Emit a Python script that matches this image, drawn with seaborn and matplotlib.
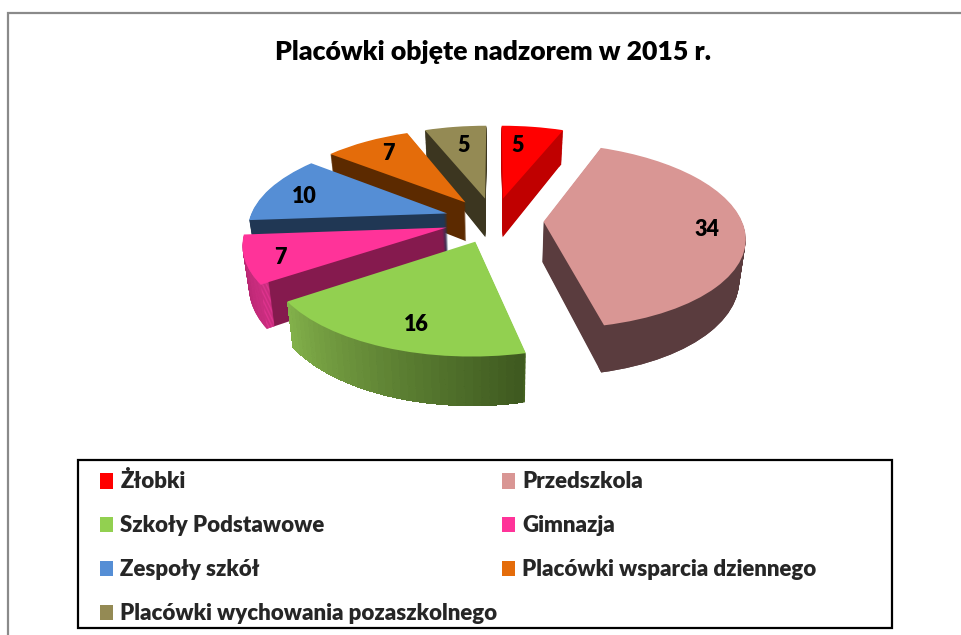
import numpy as np
import seaborn as sns
import matplotlib
matplotlib.use("Agg")
import matplotlib.pyplot as plt
from matplotlib.patches import Wedge, Rectangle
from matplotlib.transforms import Transform, Affine2D

# Dane
kategorie = ["Żłobki", "Przedszkola", "Szkoły Podstawowe", "Gimnazja",
             "Zespoły szkół", "Placówki wsparcia dziennego",
             "Placówki wychowania pozaszkolnego"]
wartosci = [5, 34, 16, 7, 10, 7, 5]
tytul = "Placówki objęte nadzorem w 2015 r."

# Kolory
kolory = ["#ff0000", "#d99694", "#92d050", "#ff3399", "#558ed5", "#e46c0a", "#948a54"]
sciany = ["#c00000", "#5a3c3e", "#43601f", "#851a4e", "#203754", "#5c2a00", "#3c3620"]
obrzeza = ["#c00000", "#5a3c3e", "#43601f", "#e0348f", "#203754", "#5c2a00", "#3c3620"]
kolejnosc = [0, 6, 5, 4, 3, 2, 1]  # od tylu do przodu

# Korekta polozenia etykiet (piksele)
przesuniecia = [(-10, 6), (3, 2), (12, 1), (-6, 5), (0, 3), (4, 1), (3, 6)]

sns.set_theme(style="white")
plt.rcParams["font.family"] = ["Lato", "DejaVu Sans"]

# Rzut perspektywiczny kola na ekran (piksele)
SX, SY, CX, CY, K = 198, 90, 494, 220, 0.152
GLEBOKOSC = 40


class Rzut(Transform):
    input_dims = output_dims = 2

    def __init__(self, z=0):
        super().__init__()
        self.z = z

    def transform_non_affine(self, values):
        x, y = np.asarray(values).T
        f = 1 / (1 + K * y)
        return np.column_stack((CX + x * SX * f * (1 - 0.00065 * self.z),
                                CY - y * SY * f + self.z * f))


fig = plt.figure(figsize=(9.62, 6.35), dpi=100)
ax = fig.add_axes([0, 0, 1, 1])
explode = [0.25] * len(wartosci)
wspolne = dict(explode=explode, startangle=90, counterclock=False)


def rozmiesc(klin, i, z, warstwa):
    klin.set_transform(Rzut(z) + ax.transData)
    klin.set_zorder(2 + kolejnosc.index(i) + warstwa)


# Boki: warstwy od dolu do gory
for z in range(GLEBOKOSC, 0, -1):
    warstwa = (GLEBOKOSC - z) / 100
    sc, _ = ax.pie(wartosci, colors=sciany, wedgeprops={"linewidth": 0}, **wspolne)
    ob, _ = ax.pie(wartosci, colors=obrzeza, wedgeprops={"linewidth": 0, "width": 0.04}, **wspolne)
    for i in range(len(wartosci)):
        rozmiesc(sc[i], i, z, warstwa)
        rozmiesc(ob[i], i, z, warstwa + 0.001)
    # cieniowanie obrzeza zielonego wycinka
    zielony = ob[2]
    kroki = np.arange(zielony.theta1, zielony.theta2 - 2.0, 2.0)
    paleta = sns.blend_palette(["#82b04a", "#3f5a20"], len(kroki))
    for t, kol in zip(kroki, paleta):
        w = Wedge(zielony.center, 1, t, t + 2.0, width=0.04, facecolor=kol,
                  linewidth=0, antialiased=False)
        ax.add_patch(w)
        rozmiesc(w, 2, z, warstwa + 0.002)

# Gorna powierzchnia
gora, _, etykiety = ax.pie(
    wartosci, colors=sns.color_palette(kolory), wedgeprops={"linewidth": 0},
    autopct=lambda p: f"{p * sum(wartosci) / 100:.0f}", pctdistance=0.8,
    textprops={"fontsize": 15.5, "fontweight": "heavy", "color": "black"}, **wspolne)
for i, w in enumerate(gora):
    rozmiesc(w, i, 0, 0.9)
for t, (dx, dy) in zip(etykiety, przesuniecia):
    t.set_transform(Rzut(0) + ax.transData + Affine2D().translate(dx, -dy))
    t.set_zorder(50)

# Osie w pikselach
ax.set_aspect("auto")
ax.set_xlim(0, 962)
ax.set_ylim(635, 0)
ax.axis("off")

# Ramka wykresu
ax.plot([8, 8, 962], [635, 13, 13], color="#8a8a8a", lw=1.6, zorder=1, solid_joinstyle="miter")

ax.text(493, 52, tytul, ha="center", va="center", fontsize=19.2, fontweight="heavy", color="black")

# Ramka legendy
ax.add_patch(Rectangle((78, 460), 814, 168, facecolor="white", edgecolor="black", lw=1.6, zorder=55))

# Legenda - wypelniana wierszami jak w oryginale
uklad = [0, 2, 4, 6, 1, 3, 5]
leg = ax.legend([gora[i] for i in uklad], [kategorie[i] for i in uklad], ncol=2,
                loc="upper left", bbox_to_anchor=(100 / 962, 1 - 471.5 / 635),
                bbox_transform=fig.transFigure, frameon=False,
                handlelength=0.6, handletextpad=0.32, labelspacing=1.03,
                borderaxespad=0, borderpad=0, columnspacing=0.2,
                prop={"weight": "heavy", "size": 16})
leg.set_zorder(60)

fig.savefig("out.png", dpi=100)
